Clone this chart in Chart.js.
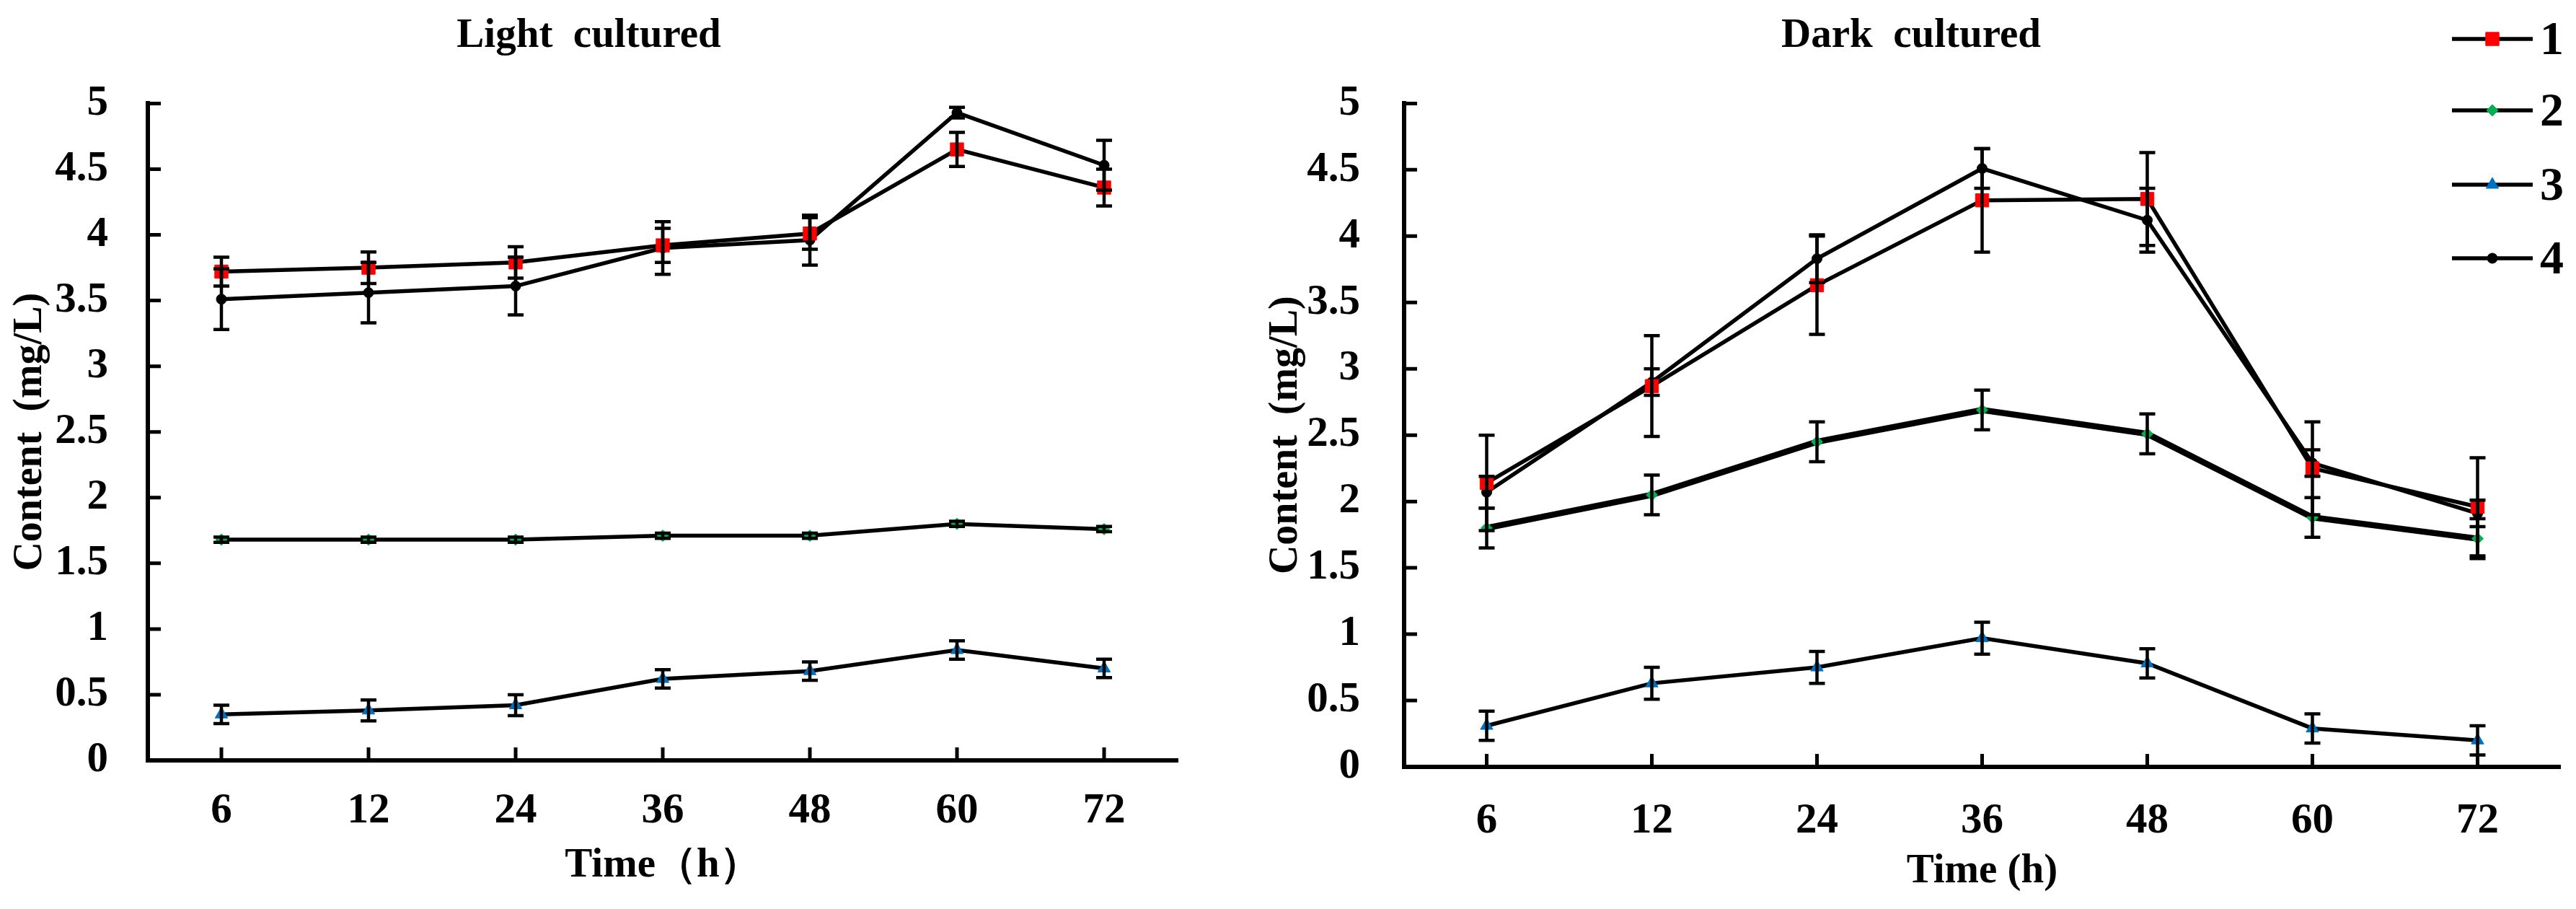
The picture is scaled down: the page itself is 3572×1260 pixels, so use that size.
<!DOCTYPE html>
<html>
<head>
<meta charset="utf-8">
<title>Light / Dark cultured</title>
<script src="https://cdn.jsdelivr.net/npm/chart.js@4.4.1/dist/chart.umd.min.js"></script>
<style>
  html, body { margin: 0; padding: 0; background: #fff; }
  #wrap { position: relative; width: 3572px; height: 1260px; }
  .panel { position: absolute; top: 0; }
  #lightChart { left: 0; }
  #darkChart { left: 1750px; }
</style>
</head>
<body>
<div id="wrap">
  <canvas id="lightChart" class="panel" width="1750" height="1260"></canvas>
  <canvas id="darkChart" class="panel" width="1822" height="1260"></canvas>
</div>
<script>
// categorias e ticks
const timeLabels = ['6', '12', '24', '36', '48', '60', '72'];
const yTickValues = [0, 0.5, 1, 1.5, 2, 2.5, 3, 3.5, 4, 4.5, 5];
const seriesNames = ['1', '2', '3', '4'];

// Light cultured
const light1 = [3.72, 3.75, 3.79, 3.92, 4.01, 4.65, 4.36];
const light1Err = [0.11, 0.12, 0.12, 0.13, 0.12, 0.13, 0.14];
const light2 = [1.68, 1.68, 1.68, 1.71, 1.71, 1.80, 1.76];
const light2Err = [0.02, 0.02, 0.02, 0.02, 0.02, 0.02, 0.02];
const light3 = [0.35, 0.38, 0.42, 0.62, 0.68, 0.84, 0.70];
const light3Err = [0.07, 0.08, 0.08, 0.07, 0.07, 0.07, 0.07];
const light4 = [3.51, 3.56, 3.61, 3.90, 3.96, 4.93, 4.53];
const light4Err = [0.23, 0.23, 0.22, 0.20, 0.19, 0.04, 0.19];

// Dark cultured
const dark1 = [2.14, 2.87, 3.63, 4.27, 4.28, 2.25, 1.96];
const dark1Err = [0.36, 0.38, 0.37, 0.39, 0.35, 0.35, 0.37];
const dark2 = [1.80, 2.05, 2.45, 2.69, 2.51, 1.88, 1.72];
const dark2Err = [0.15, 0.15, 0.15, 0.15, 0.15, 0.15, 0.15];
const dark3 = [0.31, 0.63, 0.75, 0.97, 0.78, 0.29, 0.20];
const dark3Err = [0.11, 0.12, 0.12, 0.12, 0.11, 0.11, 0.11];
const dark4 = [2.07, 2.90, 3.83, 4.51, 4.12, 2.29, 1.91];
const dark4Err = [0.12, 0.10, 0.18, 0.15, 0.24, 0.10, 0.10];

const FONT = '"Liberation Serif", "Times New Roman", serif';

const markers = [
  { style: 'rect', radius: 13, color: '#ff0000' },
  { style: 'rectRot', radius: 8, color: '#00b050' },
  { style: 'triangle', radius: 10, color: '#0070c0' },
  { style: 'circle', radius: 7, color: '#000000' },
];

function makeDatasets(values, errors, greenWidth) {
  return values.map((data, i) => ({
    label: seriesNames[i],
    data,
    errors: errors[i],
    borderColor: '#000',
    borderWidth: i === 1 ? greenWidth : 5.5,
    pointStyle: markers[i].style,
    pointRadius: markers[i].radius,
    pointBackgroundColor: markers[i].color,
    pointBorderColor: markers[i].color,
    pointBorderWidth: 1,
    tension: 0,
    fill: false,
  }));
}

// barras de erro desenhadas pela escala y
const errorBars = {
  id: 'errorBars',
  afterDatasetsDraw(chart, args, opts) {
    const { ctx } = chart;
    const yScale = chart.scales.y;
    ctx.save();
    ctx.strokeStyle = '#000';
    ctx.lineWidth = opts.width;
    chart.data.datasets.forEach((ds, i) => {
      if (!ds.errors) return;
      chart.getDatasetMeta(i).data.forEach((pt, j) => {
        const v = ds.data[j], e = ds.errors[j];
        const top = yScale.getPixelForValue(v + e);
        const bot = yScale.getPixelForValue(v - e);
        ctx.beginPath();
        ctx.moveTo(pt.x, top); ctx.lineTo(pt.x, bot);
        ctx.moveTo(pt.x - opts.cap, top); ctx.lineTo(pt.x + opts.cap, top);
        ctx.moveTo(pt.x - opts.cap, bot); ctx.lineTo(pt.x + opts.cap, bot);
        ctx.stroke();
      });
    });
    ctx.restore();
  }
};

// marcas de tick para dentro da área
const innerTicks = {
  id: 'innerTicks',
  afterDraw(chart, args, opts) {
    const { ctx, chartArea } = chart;
    const xs = chart.scales.x, ys = chart.scales.y;
    ctx.save();
    ctx.strokeStyle = '#000';
    ctx.lineWidth = opts.width;
    ctx.beginPath();
    ys.ticks.forEach((t, i) => {
      const py = ys.getPixelForTick(i);
      ctx.moveTo(chartArea.left, py);
      ctx.lineTo(chartArea.left + opts.length, py);
    });
    xs.ticks.forEach((t, i) => {
      const px = xs.getPixelForTick(i);
      ctx.moveTo(px, chartArea.bottom);
      ctx.lineTo(px, chartArea.bottom - opts.length);
    });
    ctx.stroke();
    ctx.restore();
  }
};

function drawMarker(ctx, style, r, x, y) {
  if (Chart.helpers && Chart.helpers.drawPoint) {
    Chart.helpers.drawPoint(ctx, { pointStyle: style, radius: r, borderWidth: 1, rotation: 0 }, x, y);
    return;
  }
  ctx.beginPath();
  ctx.arc(x, y, r, 0, Math.PI * 2);
  ctx.fill();
}

// legenda lateral (só no gráfico escuro)
const sideLegend = {
  id: 'sideLegend',
  afterDraw(chart, args, opts) {
    if (!opts.display) return;
    const { ctx } = chart;
    ctx.save();
    chart.data.datasets.forEach((ds, i) => {
      const y = opts.rows[i];
      ctx.strokeStyle = '#000';
      ctx.lineWidth = opts.lineWidth;
      ctx.beginPath();
      ctx.moveTo(opts.x0, y); ctx.lineTo(opts.x1, y);
      ctx.stroke();
      ctx.fillStyle = ds.pointBackgroundColor;
      ctx.strokeStyle = ds.pointBorderColor;
      ctx.lineWidth = 1;
      drawMarker(ctx, ds.pointStyle, ds.pointRadius, (opts.x0 + opts.x1) / 2, y);
      ctx.fillStyle = '#000';
      ctx.font = 'bold ' + opts.fontSize + 'px ' + FONT;
      ctx.textAlign = 'left';
      ctx.textBaseline = 'middle';
      ctx.fillText(ds.label, opts.textX, y + 4);
    });
    ctx.restore();
  }
};

function makeConfig(o) {
  return {
    type: 'line',
    data: { labels: timeLabels, datasets: o.datasets },
    plugins: [errorBars, innerTicks, sideLegend],
    options: {
      responsive: false,
      animation: false,
      devicePixelRatio: 1,
      layout: { padding: { left: 0, right: o.padRight, top: 0, bottom: 0 } },
      plugins: {
        legend: { display: false },
        tooltip: { enabled: false },
        title: {
          display: true,
          text: o.title,
          color: '#000',
          font: { family: FONT, size: 57, weight: 'bold' },
          padding: { top: 16, bottom: 59 },
        },
        errorBars: { width: 4.5, cap: 11 },
        innerTicks: { width: 5, length: 18 },
        sideLegend: o.legend,
      },
      scales: {
        x: {
          type: 'category',
          offset: true,
          grid: { display: false },
          border: { display: true, color: '#000', width: 6 },
          ticks: { color: '#000', padding: o.xTickPad, font: { family: FONT, size: 59, weight: 'bold' } },
          title: {
            display: true,
            text: o.xTitle,
            color: '#000',
            font: { family: FONT, size: 57, weight: 'bold' },
            padding: { top: 0, bottom: o.xTitlePad },
          },
          afterFit(scale) { scale.height = o.xHeight; },
        },
        y: {
          min: 0,
          max: 5,
          grid: { display: false },
          border: { display: true, color: '#000', width: 6 },
          afterBuildTicks(scale) { scale.ticks = yTickValues.map(v => ({ value: v })); },
          ticks: {
            color: '#000',
            padding: o.yTickPad,
            font: { family: FONT, size: 59, weight: 'bold' },
            callback: v => String(+(+v).toFixed(1)),
          },
          title: {
            display: true,
            text: 'Content  (mg/L)',
            color: '#000',
            font: { family: FONT, size: 56, weight: 'bold' },
            padding: { top: o.yTitlePad, bottom: 0 },
          },
          afterFit(scale) { scale.width = o.yWidth; },
        },
      },
    },
  };
}

new Chart(document.getElementById('lightChart'), makeConfig({
  title: 'Light  cultured',
  xTitle: 'Time（h）',
  datasets: makeDatasets([light1, light2, light3, light4], [light1Err, light2Err, light3Err, light4Err], 5.5),
  padRight: 117,
  xHeight: 206,
  yWidth: 205,
  xTickPad: 27,
  xTitlePad: 26,
  yTickPad: 47,
  yTitlePad: 9,
  legend: { display: false },
}));

new Chart(document.getElementById('darkChart'), makeConfig({
  title: 'Dark  cultured',
  xTitle: 'Time (h)',
  datasets: makeDatasets([dark1, dark2, dark3, dark4], [dark1Err, dark2Err, dark3Err, dark4Err], 8.5),
  padRight: 22,
  xHeight: 197,
  yWidth: 197,
  xTickPad: 32,
  xTitlePad: 18,
  yTickPad: 53,
  yTitlePad: 0,
  legend: {
    display: true,
    x0: 1650, x1: 1762, textX: 1772,
    rows: [54, 153, 256, 358],
    lineWidth: 5.5,
    fontSize: 66,
  },
}));
</script>
</body>
</html>
